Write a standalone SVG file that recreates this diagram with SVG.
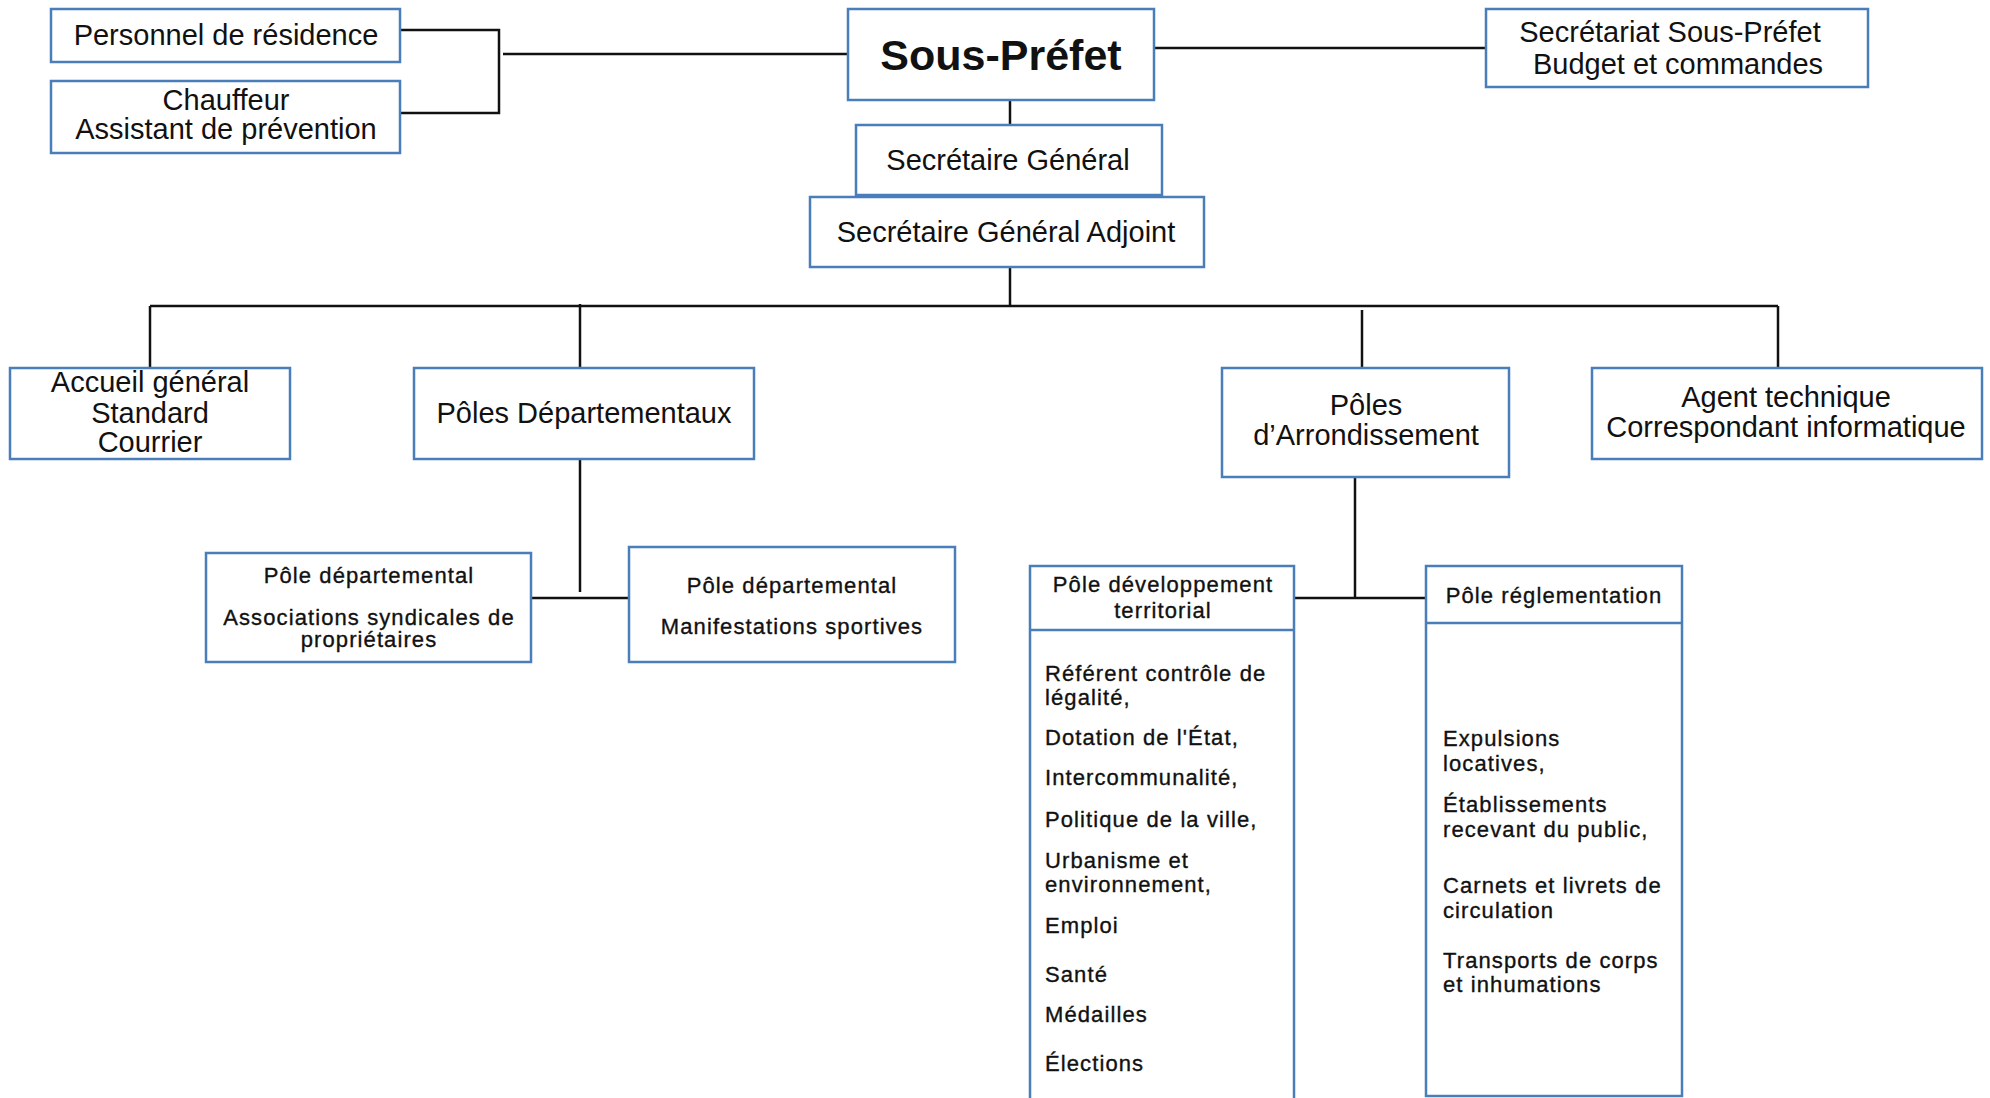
<svg xmlns="http://www.w3.org/2000/svg" width="1990" height="1098" viewBox="0 0 1990 1098">
<style>
.box{fill:#fff;stroke:#4a7ebb;stroke-width:2.5}
.div{stroke:#4a7ebb;stroke-width:2.5}
.conn{stroke:#111;stroke-width:2.5;fill:none}
.t{font-family:"Liberation Sans",Arial,sans-serif;font-size:29px;fill:#111;text-anchor:middle}
.b{font-weight:bold;font-size:43px}
.s{font-family:"Liberation Sans",Arial,sans-serif;font-size:22px;fill:#111;letter-spacing:1.1px;stroke:#111;stroke-width:0.35}
.c{text-anchor:middle}
</style>
<rect width="1990" height="1098" fill="#fff"/>
<g id="connectors">
<path class="conn" d="M400 30 H499 V113 H400"/>
<path class="conn" d="M503 54 H848"/>
<path class="conn" d="M1154 48 H1486"/>
<path class="conn" d="M1010 100 V125"/>
<path class="conn" d="M1010 267 V306"/>
<path class="conn" d="M150 306 H1778"/>
<path class="conn" d="M150 306 V368"/>
<path class="conn" d="M580 304 V368"/>
<path class="conn" d="M1362 310 V368"/>
<path class="conn" d="M1778 306 V368"/>
<path class="conn" d="M580 459 V592"/>
<path class="conn" d="M531 598 H629"/>
<path class="conn" d="M1355 477 V598"/>
<path class="conn" d="M1294 598 H1426"/>
</g>
<g id="personnel">
<rect class="box" x="51" y="9" width="349" height="53"/>
<text class="t" x="226" y="45">Personnel de résidence</text>
</g>
<g id="chauffeur">
<rect class="box" x="51" y="81" width="349" height="72"/>
<text class="t" x="226" y="110">Chauffeur</text>
<text class="t" x="226" y="139">Assistant de prévention</text>
</g>
<g id="sous-prefet">
<rect class="box" x="848" y="9" width="306" height="91"/>
<text class="t b" x="1001" y="70">Sous-Préfet</text>
</g>
<g id="secretariat">
<rect class="box" x="1486" y="9" width="382" height="78"/>
<text class="t" x="1670" y="42">Secrétariat Sous-Préfet</text>
<text class="t" x="1678" y="74">Budget et commandes</text>
</g>
<g id="secretaire-general">
<rect class="box" x="856" y="125" width="306" height="70"/>
<text class="t" x="1008" y="170">Secrétaire Général</text>
</g>
<g id="secretaire-general-adjoint">
<rect class="box" x="810" y="197" width="394" height="70"/>
<text class="t" x="1006" y="242">Secrétaire Général Adjoint</text>
</g>
<g id="accueil">
<rect class="box" x="10" y="368" width="280" height="91"/>
<text class="t" x="150" y="392">Accueil général</text>
<text class="t" x="150" y="423">Standard</text>
<text class="t" x="150" y="452">Courrier</text>
</g>
<g id="poles-departementaux">
<rect class="box" x="414" y="368" width="340" height="91"/>
<text class="t" x="584" y="423">Pôles Départementaux</text>
</g>
<g id="poles-arrondissement">
<rect class="box" x="1222" y="368" width="287" height="109"/>
<text class="t" x="1366" y="415">Pôles</text>
<text class="t" x="1366" y="445">d’Arrondissement</text>
</g>
<g id="agent-technique">
<rect class="box" x="1592" y="368" width="390" height="91"/>
<text class="t" x="1786" y="407">Agent technique</text>
<text class="t" x="1786" y="437">Correspondant informatique</text>
</g>
<g id="pole-asp">
<rect class="box" x="206" y="553" width="325" height="109"/>
<text class="s c" x="369" y="583">Pôle départemental</text>
<text class="s c" x="369" y="625">Associations syndicales de</text>
<text class="s c" x="369" y="647">propriétaires</text>
</g>
<g id="pole-ms">
<rect class="box" x="629" y="547" width="326" height="115"/>
<text class="s c" x="792" y="593">Pôle départemental</text>
<text class="s c" x="792" y="634">Manifestations sportives</text>
</g>
<g id="pole-developpement">
<rect class="box" x="1030" y="566" width="264" height="560"/>
<line class="div" x1="1030" y1="630" x2="1294" y2="630"/>
<text class="s c" x="1163" y="592">Pôle développement</text>
<text class="s c" x="1163" y="618">territorial</text>
<text class="s" x="1045" y="681">Référent contrôle de</text>
<text class="s" x="1045" y="705">légalité,</text>
<text class="s" x="1045" y="745">Dotation de l'État,</text>
<text class="s" x="1045" y="785">Intercommunalité,</text>
<text class="s" x="1045" y="827">Politique de la ville,</text>
<text class="s" x="1045" y="868">Urbanisme et</text>
<text class="s" x="1045" y="892">environnement,</text>
<text class="s" x="1045" y="933">Emploi</text>
<text class="s" x="1045" y="982">Santé</text>
<text class="s" x="1045" y="1022">Médailles</text>
<text class="s" x="1045" y="1071">Élections</text>
</g>
<g id="pole-reglementation">
<rect class="box" x="1426" y="566" width="256" height="530"/>
<line class="div" x1="1426" y1="623" x2="1682" y2="623" stroke-width="4.5"/>
<text class="s c" x="1554" y="603">Pôle réglementation</text>
<text class="s" x="1443" y="746">Expulsions</text>
<text class="s" x="1443" y="771">locatives,</text>
<text class="s" x="1443" y="812">Établissements</text>
<text class="s" x="1443" y="837">recevant du public,</text>
<text class="s" x="1443" y="893">Carnets et livrets de</text>
<text class="s" x="1443" y="918">circulation</text>
<text class="s" x="1443" y="968">Transports de corps</text>
<text class="s" x="1443" y="992">et inhumations</text>
</g>
</svg>
